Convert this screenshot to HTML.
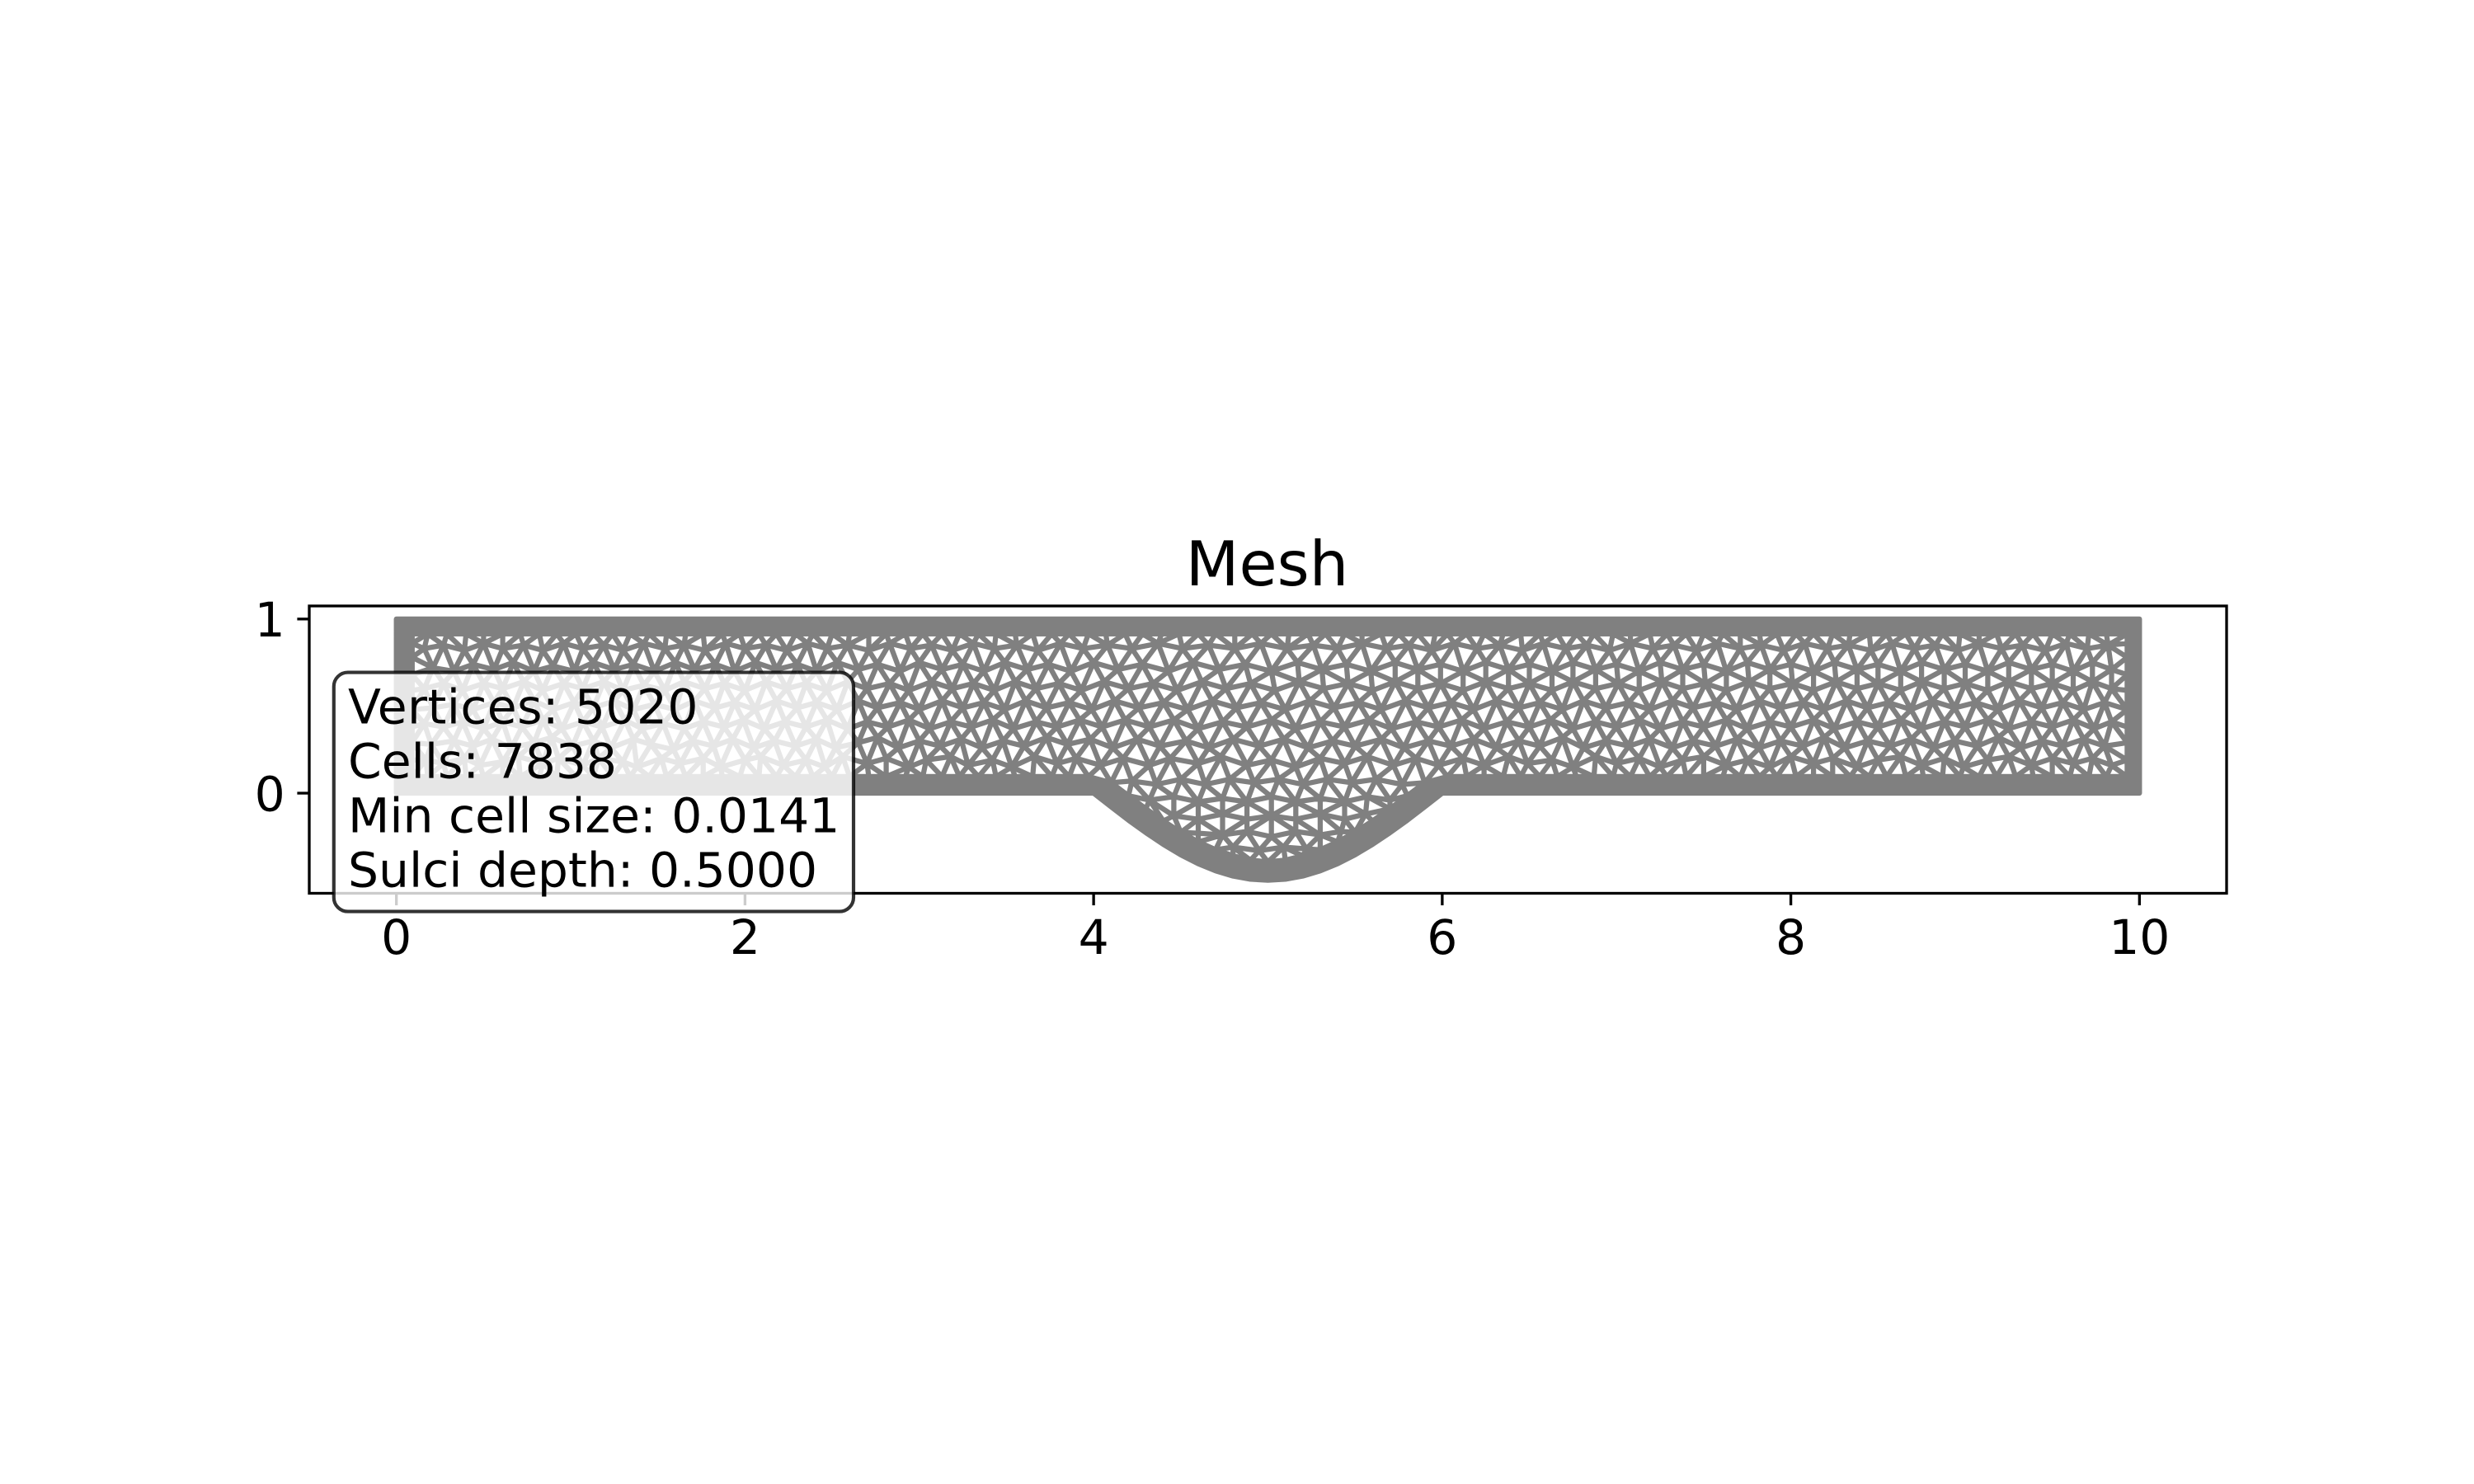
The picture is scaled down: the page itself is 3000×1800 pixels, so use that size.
<!DOCTYPE html>
<html lang="en">
<head>
<meta charset="utf-8">
<title>Mesh</title>
<style>
html,body{margin:0;padding:0;background:#fff;}
svg{display:block;}
text{font-family:"DejaVu Sans","Liberation Sans",sans-serif;fill:#000;}
</style>
</head>
<body>
<svg id="chart" xmlns="http://www.w3.org/2000/svg" width="3000" height="1800" viewBox="0 0 3000 1800">
  <rect x="0" y="0" width="3000" height="1800" fill="#ffffff"/>
  <text x="1536.5" y="710" font-size="75" text-anchor="middle">Mesh</text>
  <g id="mesh"></g>
  <g id="axes"></g>
  <g>
    <rect x="404.8" y="815.6" width="630.2" height="290" rx="17" ry="17" fill="#ffffff" fill-opacity="0.8" stroke="#000000" stroke-opacity="0.8" stroke-width="4.17"/>
    <text x="422" y="877.6" font-size="58.33" letter-spacing="0.4">Vertices: 5020</text>
    <text x="422" y="943.6" font-size="58.33">Cells: 7838</text>
    <text x="422" y="1009.6" font-size="58.33">Min cell size: 0.0141</text>
    <text x="422" y="1075.6" font-size="58.33">Sulci depth: 0.5000</text>
  </g>
</svg>
<script>
const xLimits = [-0.5, 10.5];
const yLimits = [-0.575, 1.075];
const xTickValues = [0, 2, 4, 6, 8, 10];
const yTickValues = [0, 1];
const domainX = [0, 10];
const domainY = [0, 1];
const sulcusX = [4,4.1,4.2,4.3,4.4,4.5,4.6,4.7,4.8,4.9,5,5.1,5.2,5.3,5.4,5.5,5.6,5.7,5.8,5.9,6];
const sulcusY = [0,-.078,-.155,-.227,-.294,-.354,-.405,-.446,-.476,-.494,-.5,-.494,-.476,-.446,-.405,-.354,-.294,-.227,-.155,-.078,0];
const ringTopY = 0.915;
const ringBottomY = 0.095;
const ringLeftX = 0.09;
const ringRightX = 9.93;
const ringRunX = [.09,.18,.29,.4,.5,.61,.71,.82,.92,1.03,1.13,1.24,1.34,1.45,1.55,1.66,1.76,1.87,1.97,2.08,2.18,2.29,2.39,2.5,2.6,2.71,2.81,2.92,3.02,3.13,3.23,3.34,3.44,3.55,3.65,3.76,3.86,3.97];
const ringRunXRight = [6.03,6.14,6.24,6.35,6.45,6.56,6.66,6.77,6.87,6.98,7.08,7.19,7.29,7.4,7.5,7.61,7.71,7.82,7.92,8.03,8.13,8.24,8.34,8.45,8.55,8.66,8.76,8.87,8.97,9.08,9.18,9.29,9.39,9.5,9.6,9.71,9.81,9.93];
const ringTopMidX = [4.07,4.18,4.28,4.39,4.49,4.6,4.7,4.81,4.91,5.02,5.12,5.23,5.33,5.44,5.54,5.65,5.75,5.86,5.96];
const ringSideY = [.19,.29,.38,.48,.59,.68,.78,.86];
const ringSulcusX = [4.1,4.2,4.3,4.4,4.5,4.6,4.7,4.8,4.9,5,5.1,5.2,5.3,5.4,5.5,5.6,5.7,5.8,5.9];
const ringSulcusY = [.06,-.015,-.09,-.16,-.225,-.28,-.325,-.36,-.385,-.395,-.385,-.36,-.325,-.28,-.225,-.16,-.09,-.015,.06];

const meshRow1 = [[.17,.19],[.27,.17],[.39,.2],[.48,.16],[.61,.18],[.7,.21],[.84,.17],[.93,.2],[1.07,.16],[1.16,.2],[1.3,.18],[1.38,.15],[1.52,.2],[1.63,.17],[1.76,.2],[1.86,.15],[2,.19],[2.09,.21],[2.22,.16],[2.35,.19],[2.46,.15],[2.56,.21],[2.7,.17],[2.81,.2],[2.94,.15],[3.04,.19],[3.18,.21],[3.28,.16],[3.42,.19],[3.53,.15],[3.66,.21],[3.79,.17],[3.9,.2],[4.04,.16],[4.17,.2],[4.32,.16],[4.44,.2],[4.6,.17],[4.73,.21],[4.88,.16],[5.02,.19],[5.16,.15],[5.3,.2],[5.44,.17],[5.57,.21],[5.72,.16],[5.85,.2],[5.98,.16],[6.12,.2],[6.24,.16],[6.38,.21],[6.49,.17],[6.63,.19],[6.75,.15],[6.88,.21],[7,.17],[7.13,.2],[7.25,.15],[7.38,.19],[7.5,.21],[7.63,.16],[7.75,.19],[7.88,.15],[8,.21],[8.13,.17],[8.24,.2],[8.38,.15],[8.5,.19],[8.63,.21],[8.75,.16],[8.88,.2],[8.99,.15],[9.13,.19],[9.25,.21],[9.38,.16],[9.5,.2],[9.62,.17],[9.73,.2],[9.84,.16]];
const meshRow2 = [[.2,.28],[.33,.3],[.44,.27],[.55,.31],[.66,.26],[.79,.29],[.89,.32],[1.01,.27],[1.13,.3],[1.23,.26],[1.36,.31],[1.46,.28],[1.59,.25],[1.7,.3],[1.82,.27],[1.93,.31],[2.05,.26],[2.17,.3],[2.29,.27],[2.41,.31],[2.52,.26],[2.65,.29],[2.76,.32],[2.88,.26],[3,.3],[3.12,.27],[3.24,.31],[3.36,.26],[3.48,.3],[3.6,.27],[3.73,.32],[3.85,.28],[3.98,.31],[4.11,.26],[4.25,.31],[4.38,.27],[4.53,.3],[4.66,.26],[4.8,.31],[4.95,.27],[5.09,.31],[5.23,.26],[5.37,.3],[5.5,.27],[5.65,.31],[5.78,.26],[5.92,.3],[6.05,.27],[6.18,.31],[6.31,.26],[6.44,.3],[6.56,.27],[6.69,.32],[6.81,.26],[6.94,.3],[7.07,.27],[7.19,.31],[7.32,.26],[7.44,.3],[7.57,.27],[7.69,.31],[7.82,.26],[7.94,.3],[8.07,.27],[8.19,.32],[8.31,.26],[8.44,.3],[8.57,.27],[8.69,.31],[8.82,.26],[8.94,.3],[9.07,.27],[9.19,.32],[9.32,.26],[9.44,.3],[9.56,.27],[9.68,.31],[9.8,.27]];
const meshRow3 = [[.16,.4],[.27,.38],[.38,.41],[.5,.37],[.61,.41],[.72,.38],[.84,.42],[.95,.37],[1.07,.41],[1.18,.38],[1.31,.42],[1.41,.37],[1.53,.4],[1.65,.37],[1.76,.41],[1.88,.38],[1.99,.42],[2.11,.37],[2.23,.41],[2.35,.38],[2.47,.42],[2.59,.37],[2.7,.41],[2.82,.38],[2.94,.42],[3.06,.37],[3.18,.41],[3.3,.38],[3.42,.42],[3.54,.37],[3.67,.41],[3.79,.38],[3.92,.42],[4.05,.38],[4.18,.42],[4.32,.38],[4.46,.42],[4.6,.37],[4.74,.41],[4.88,.38],[5.02,.42],[5.16,.37],[5.3,.41],[5.44,.38],[5.58,.42],[5.71,.37],[5.85,.41],[5.98,.38],[6.11,.42],[6.24,.37],[6.37,.41],[6.5,.38],[6.62,.42],[6.75,.37],[6.88,.41],[7,.38],[7.13,.42],[7.25,.37],[7.38,.41],[7.5,.38],[7.63,.42],[7.75,.37],[7.88,.41],[8,.38],[8.13,.42],[8.25,.37],[8.38,.41],[8.5,.38],[8.63,.42],[8.75,.37],[8.88,.41],[9,.38],[9.13,.42],[9.25,.37],[9.38,.41],[9.5,.38],[9.62,.42],[9.74,.37],[9.84,.41]];
const meshRow4 = [[.21,.49],[.33,.51],[.44,.48],[.56,.52],[.67,.49],[.79,.53],[.9,.48],[1.02,.52],[1.13,.49],[1.25,.53],[1.36,.48],[1.48,.51],[1.6,.48],[1.71,.53],[1.83,.49],[1.94,.52],[2.06,.48],[2.18,.53],[2.3,.49],[2.41,.52],[2.53,.48],[2.65,.53],[2.76,.49],[2.89,.52],[3,.48],[3.13,.53],[3.25,.49],[3.37,.52],[3.49,.48],[3.61,.53],[3.73,.49],[3.86,.52],[3.99,.48],[4.12,.53],[4.26,.49],[4.4,.52],[4.54,.48],[4.68,.53],[4.82,.49],[4.96,.52],[5.1,.48],[5.24,.53],[5.38,.49],[5.52,.52],[5.65,.48],[5.79,.53],[5.92,.49],[6.05,.52],[6.18,.48],[6.31,.53],[6.44,.49],[6.56,.52],[6.69,.48],[6.81,.53],[6.94,.49],[7.07,.52],[7.19,.48],[7.32,.53],[7.44,.49],[7.57,.52],[7.69,.48],[7.82,.53],[7.94,.49],[8.07,.52],[8.19,.48],[8.32,.53],[8.44,.49],[8.56,.52],[8.69,.48],[8.81,.53],[8.94,.49],[9.06,.52],[9.19,.48],[9.31,.53],[9.44,.49],[9.56,.52],[9.68,.48],[9.8,.52]];
const meshRow5 = [[.16,.6],[.27,.63],[.38,.59],[.5,.63],[.61,.6],[.73,.64],[.84,.59],[.96,.63],[1.07,.6],[1.19,.64],[1.3,.59],[1.42,.62],[1.54,.59],[1.65,.64],[1.77,.6],[1.88,.63],[2,.59],[2.12,.64],[2.24,.6],[2.35,.63],[2.47,.59],[2.59,.64],[2.7,.6],[2.83,.63],[2.94,.59],[3.07,.64],[3.19,.6],[3.31,.63],[3.43,.59],[3.55,.64],[3.67,.6],[3.8,.63],[3.93,.59],[4.06,.64],[4.2,.6],[4.34,.63],[4.48,.59],[4.62,.64],[4.76,.6],[4.9,.63],[5.04,.59],[5.18,.64],[5.32,.6],[5.46,.63],[5.6,.59],[5.73,.64],[5.86,.6],[5.99,.63],[6.12,.59],[6.25,.64],[6.38,.6],[6.5,.63],[6.63,.59],[6.75,.64],[6.88,.6],[7.01,.63],[7.13,.59],[7.26,.64],[7.38,.6],[7.51,.63],[7.63,.59],[7.76,.64],[7.88,.6],[8.01,.63],[8.13,.59],[8.26,.64],[8.38,.6],[8.5,.63],[8.63,.59],[8.75,.64],[8.88,.6],[9,.63],[9.13,.59],[9.25,.64],[9.38,.6],[9.5,.63],[9.62,.59],[9.73,.64],[9.84,.6]];
const meshRow6 = [[.21,.72],[.33,.7],[.44,.74],[.56,.71],[.67,.75],[.79,.7],[.9,.73],[1.02,.7],[1.13,.75],[1.25,.71],[1.36,.74],[1.48,.7],[1.6,.75],[1.71,.71],[1.83,.74],[1.94,.7],[2.06,.75],[2.18,.71],[2.3,.74],[2.41,.7],[2.53,.75],[2.65,.71],[2.76,.74],[2.89,.7],[3,.75],[3.13,.71],[3.25,.74],[3.37,.7],[3.49,.75],[3.62,.71],[3.74,.74],[3.87,.7],[4,.75],[4.14,.71],[4.28,.74],[4.43,.7],[4.57,.75],[4.72,.71],[4.87,.74],[5.02,.7],[5.17,.75],[5.31,.71],[5.45,.74],[5.59,.7],[5.73,.75],[5.86,.71],[5.99,.74],[6.12,.7],[6.25,.75],[6.38,.71],[6.5,.74],[6.63,.7],[6.75,.75],[6.88,.71],[7,.74],[7.13,.7],[7.25,.75],[7.38,.71],[7.5,.74],[7.63,.7],[7.75,.75],[7.88,.71],[8,.74],[8.13,.7],[8.25,.75],[8.38,.71],[8.5,.74],[8.63,.7],[8.75,.75],[8.88,.71],[9,.74],[9.13,.7],[9.25,.75],[9.38,.71],[9.5,.74],[9.62,.7],[9.73,.75],[9.84,.71]];
const meshRow7 = [[.16,.83],[.27,.85],[.39,.82],[.5,.86],[.61,.83],[.73,.85],[.84,.82],[.96,.86],[1.07,.83],[1.19,.85],[1.3,.82],[1.42,.86],[1.54,.83],[1.65,.85],[1.77,.82],[1.89,.86],[2,.83],[2.12,.85],[2.24,.82],[2.36,.86],[2.47,.83],[2.59,.85],[2.71,.82],[2.83,.86],[2.95,.83],[3.07,.85],[3.19,.82],[3.31,.86],[3.43,.83],[3.56,.85],[3.68,.82],[3.81,.86],[3.94,.83],[4.08,.85],[4.22,.83],[4.37,.86],[4.51,.83],[4.66,.85],[4.81,.83],[4.96,.86],[5.11,.83],[5.26,.85],[5.4,.83],[5.54,.86],[5.68,.83],[5.81,.85],[5.94,.82],[6.07,.86],[6.2,.83],[6.33,.85],[6.46,.82],[6.58,.86],[6.71,.83],[6.83,.85],[6.96,.82],[7.08,.86],[7.21,.83],[7.33,.85],[7.46,.82],[7.58,.86],[7.71,.83],[7.83,.85],[7.96,.82],[8.08,.86],[8.21,.83],[8.33,.85],[8.46,.82],[8.58,.86],[8.71,.83],[8.83,.85],[8.96,.82],[9.08,.86],[9.21,.83],[9.33,.85],[9.46,.82],[9.58,.86],[9.7,.83],[9.82,.85]];
const sulcusRow1 = [[4.22,.07],[4.36,.05],[4.5,.08],[4.64,.05],[4.78,.08],[4.92,.06],[5.06,.08],[5.2,.05],[5.34,.08],[5.48,.06],[5.62,.08],[5.77,.05]];
const sulcusRow2 = [[4.32,-.04],[4.46,-.02],[4.6,-.05],[4.74,-.03],[4.88,-.05],[5.02,-.02],[5.16,-.05],[5.3,-.03],[5.44,-.05],[5.57,-.02],[5.7,-.04]];
const sulcusRow3 = [[4.46,-.13],[4.6,-.15],[4.74,-.12],[4.88,-.15],[5.02,-.13],[5.16,-.15],[5.3,-.12],[5.44,-.15],[5.56,-.12]];
const sulcusRow4 = [[4.6,-.23],[4.74,-.24],[4.88,-.22],[5.02,-.25],[5.16,-.22],[5.3,-.24],[5.42,-.22]];
const sulcusRow5 = [[4.8,-.31],[4.95,-.33],[5.09,-.31],[5.22,-.32]];

const svgNS = 'http://www.w3.org/2000/svg';
const axisLeft = 375, axisRight = 2700, axisTop = 735, axisBottom = 1083.5;
function xScale(v){ return axisLeft + (v - xLimits[0]) / (xLimits[1] - xLimits[0]) * (axisRight - axisLeft); }
function yScale(v){ return axisBottom - (v - yLimits[0]) / (yLimits[1] - yLimits[0]) * (axisBottom - axisTop); }

const interior = [].concat(meshRow1, meshRow2, meshRow3, meshRow4, meshRow5, meshRow6, meshRow7,
  sulcusRow1, sulcusRow2, sulcusRow3, sulcusRow4, sulcusRow5);

// Inner ring of the boundary band, walked as a closed polygon
const ring = [];
ringRunX.forEach(function(x){ ring.push([x, ringBottomY]); });
ringSulcusX.forEach(function(x, i){ ring.push([x, ringSulcusY[i]]); });
ringRunXRight.forEach(function(x){ ring.push([x, ringBottomY]); });
ringSideY.forEach(function(y){ ring.push([ringRightX, y]); });
ringRunXRight.slice().reverse().forEach(function(x){ ring.push([x, ringTopY]); });
ringTopMidX.slice().reverse().forEach(function(x){ ring.push([x, ringTopY]); });
ringRunX.slice().reverse().forEach(function(x){ ring.push([x, ringTopY]); });
ringSideY.slice().reverse().forEach(function(y){ ring.push([ringLeftX, y]); });

function insideRing(px, py){
  let c = false;
  for (let i = 0, j = ring.length - 1; i < ring.length; j = i++) {
    const a = ring[i], b = ring[j];
    if ((a[1] > py) !== (b[1] > py) && px < (b[0] - a[0]) * (py - a[1]) / (b[1] - a[1]) + a[0]) c = !c;
  }
  return c;
}

function circum(p, a, b, c){
  const d = 2 * (p[a][0] * (p[b][1] - p[c][1]) + p[b][0] * (p[c][1] - p[a][1]) + p[c][0] * (p[a][1] - p[b][1]));
  if (Math.abs(d) < 1e-12) return { x: 0, y: 0, r: Infinity };
  const sa = p[a][0] * p[a][0] + p[a][1] * p[a][1];
  const sb = p[b][0] * p[b][0] + p[b][1] * p[b][1];
  const sc = p[c][0] * p[c][0] + p[c][1] * p[c][1];
  const x = (sa * (p[b][1] - p[c][1]) + sb * (p[c][1] - p[a][1]) + sc * (p[a][1] - p[b][1])) / d;
  const y = (sa * (p[c][0] - p[b][0]) + sb * (p[a][0] - p[c][0]) + sc * (p[b][0] - p[a][0])) / d;
  return { x: x, y: y, r: (p[a][0] - x) * (p[a][0] - x) + (p[a][1] - y) * (p[a][1] - y) };
}

function delaunay(points){
  const p = points.concat([[-100, -100], [200, -100], [5, 200]]);
  const n = points.length;
  let tris = [{ v: [n, n + 1, n + 2], c: circum(p, n, n + 1, n + 2) }];
  for (let i = 0; i < n; i++) {
    const keep = [], edges = new Map();
    for (const t of tris) {
      const dx = p[i][0] - t.c.x, dy = p[i][1] - t.c.y;
      if (dx * dx + dy * dy <= t.c.r) {
        [[0, 1], [1, 2], [2, 0]].forEach(function(e){
          const a = t.v[e[0]], b = t.v[e[1]];
          const k = a < b ? a + '_' + b : b + '_' + a;
          edges.set(k, edges.has(k) ? null : [a, b]);
        });
      } else keep.push(t);
    }
    edges.forEach(function(e){
      if (e) keep.push({ v: [e[0], e[1], i], c: circum(p, e[0], e[1], i) });
    });
    tris = keep;
  }
  return tris.filter(function(t){ return t.v[0] < n && t.v[1] < n && t.v[2] < n; }).map(function(t){ return t.v; });
}

const meshGroup = document.getElementById('mesh');
const axesGroup = document.getElementById('axes');

const allPoints = interior.concat(ring);
const triangles = delaunay(allPoints).filter(function(v){
  const cx = (allPoints[v[0]][0] + allPoints[v[1]][0] + allPoints[v[2]][0]) / 3;
  const cy = (allPoints[v[0]][1] + allPoints[v[1]][1] + allPoints[v[2]][1]) / 3;
  return insideRing(cx, cy);
});

// Boundary band: domain outline minus the inner ring
let outline = 'M' + xScale(domainX[0]) + ' ' + yScale(domainY[1]) +
  'L' + xScale(domainX[1]) + ' ' + yScale(domainY[1]) +
  'L' + xScale(domainX[1]) + ' ' + yScale(domainY[0]);
sulcusX.slice().reverse().forEach(function(x, i){
  outline += 'L' + xScale(x) + ' ' + yScale(sulcusY[sulcusX.length - 1 - i]);
});
outline += 'L' + xScale(domainX[0]) + ' ' + yScale(domainY[0]) + 'Z';
let ringPath = '';
ring.forEach(function(q, i){ ringPath += (i ? 'L' : 'M') + xScale(q[0]) + ' ' + yScale(q[1]); });
ringPath += 'Z';

const band = document.createElementNS(svgNS, 'path');
band.setAttribute('d', outline + ringPath);
band.setAttribute('fill', '#808080');
band.setAttribute('fill-rule', 'evenodd');
band.setAttribute('stroke', '#808080');
band.setAttribute('stroke-width', '6.25');
band.setAttribute('stroke-linejoin', 'round');


meshGroup.appendChild(band);

const seen = new Set();
let edgePath = '';
triangles.forEach(function(v){
  [[v[0], v[1]], [v[1], v[2]], [v[2], v[0]]].forEach(function(e){
    const k = e[0] < e[1] ? e[0] + '_' + e[1] : e[1] + '_' + e[0];
    if (seen.has(k)) return;
    seen.add(k);
    const a = allPoints[e[0]], b = allPoints[e[1]];
    edgePath += 'M' + xScale(a[0]).toFixed(1) + ' ' + yScale(a[1]).toFixed(1) + 'L' + xScale(b[0]).toFixed(1) + ' ' + yScale(b[1]).toFixed(1);
  });
});
const edges = document.createElementNS(svgNS, 'path');
edges.setAttribute('d', edgePath);
edges.setAttribute('fill', 'none');
edges.setAttribute('stroke', '#808080');
edges.setAttribute('stroke-width', '6.25');
edges.setAttribute('stroke-linecap', 'round');


meshGroup.appendChild(edges);

// Axes frame
const frame = document.createElementNS(svgNS, 'rect');
frame.setAttribute('x', axisLeft);
frame.setAttribute('y', axisTop);
frame.setAttribute('width', axisRight - axisLeft);
frame.setAttribute('height', axisBottom - axisTop);
frame.setAttribute('fill', 'none');
frame.setAttribute('stroke', '#000');
frame.setAttribute('stroke-width', '3.33');


axesGroup.appendChild(frame);

xTickValues.forEach(function(v){
  const px = xScale(v);
  const tick = document.createElementNS(svgNS, 'line');
  tick.setAttribute('x1', px);
  tick.setAttribute('x2', px);
  tick.setAttribute('y1', axisBottom);
  tick.setAttribute('y2', axisBottom + 14.6);
  tick.setAttribute('stroke', '#000');
  tick.setAttribute('stroke-width', '3.33');
  
  
  axesGroup.appendChild(tick);
  const label = document.createElementNS(svgNS, 'text');
  label.setAttribute('x', px);
  label.setAttribute('y', 1157);
  label.setAttribute('font-size', '58.33');
  label.setAttribute('text-anchor', 'middle');
  
  
  label.textContent = String(v);
  axesGroup.appendChild(label);
});

yTickValues.forEach(function(v){
  const py = yScale(v);
  const tick = document.createElementNS(svgNS, 'line');
  tick.setAttribute('x1', axisLeft - 14.6);
  tick.setAttribute('x2', axisLeft);
  tick.setAttribute('y1', py);
  tick.setAttribute('y2', py);
  tick.setAttribute('stroke', '#000');
  tick.setAttribute('stroke-width', '3.33');
  
  
  axesGroup.appendChild(tick);
  const label = document.createElementNS(svgNS, 'text');
  label.setAttribute('x', axisLeft - 29.2);
  label.setAttribute('y', py + 21.3);
  label.setAttribute('font-size', '58.33');
  label.setAttribute('text-anchor', 'end');
  
  
  label.textContent = String(v);
  axesGroup.appendChild(label);
});
</script>
</body>
</html>
